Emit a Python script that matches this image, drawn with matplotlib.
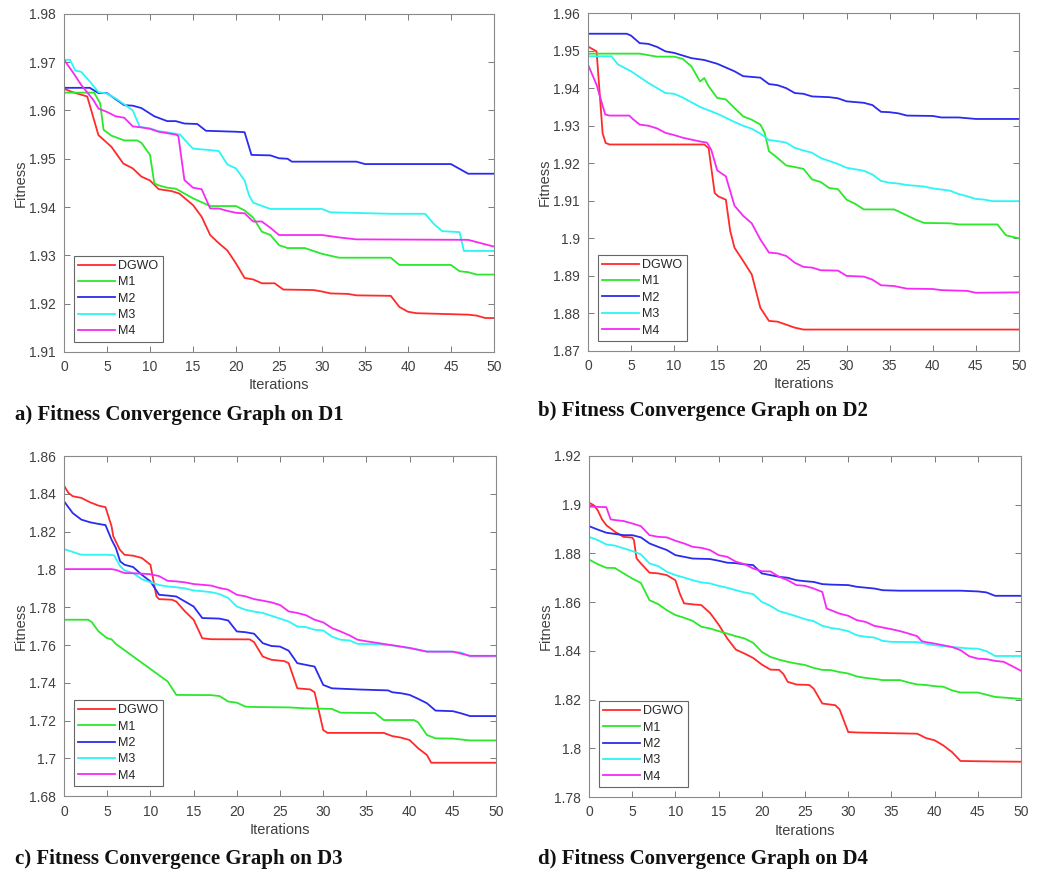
import matplotlib
matplotlib.use("Agg")
import matplotlib.pyplot as plt
from matplotlib.ticker import FuncFormatter

plt.rcParams['font.family'] = ['Liberation Sans', 'DejaVu Sans']

# iterations / fitness, (iteration, fitness) pairs
# ---- D1 ----
D1_DGWO = [(0, 1.9645), (1, 1.9638), (2.7, 1.9629), (4, 1.9549), (5.5, 1.9525), (6.9, 1.949), (8, 1.948),
           (9, 1.9463), (10, 1.9455), (11, 1.9437), (12.5, 1.9433), (13.4, 1.9428), (15, 1.9404), (16, 1.938),
           (17, 1.9342), (18, 1.9325), (19, 1.931), (20, 1.9283), (21, 1.9253), (22, 1.925), (23, 1.9242),
           (24.5, 1.9242), (25.5, 1.9229), (29, 1.9228), (30, 1.9225), (31, 1.9221), (33, 1.922), (34, 1.9217),
           (38, 1.9216), (39, 1.9193), (40, 1.9183), (41, 1.918), (47, 1.9177), (48, 1.9175), (49, 1.917), (50, 1.917)]
D1_M1 = [(0, 1.9637), (3.5, 1.9637), (4.2, 1.9615), (4.6, 1.956), (5.5, 1.9548), (7, 1.9538), (8.5, 1.9538),
         (9, 1.9533), (10, 1.9508), (10.5, 1.9449), (11, 1.9445), (12, 1.944), (13, 1.9438), (15, 1.9418),
         (16, 1.941), (17, 1.9402), (20, 1.9402), (21, 1.9393), (22, 1.9378), (23, 1.9349), (24, 1.9342),
         (25, 1.9321), (26, 1.9315), (28, 1.9315), (30, 1.9303), (32, 1.9295), (38, 1.9295), (39, 1.928),
         (45, 1.928), (46, 1.9267), (47, 1.9265), (48, 1.926), (50, 1.926)]
D1_M2 = [(0, 1.9647), (3, 1.9647), (4, 1.9636), (5, 1.9636), (7, 1.9611), (8, 1.961), (9, 1.9605),
         (10.5, 1.9588), (12, 1.9578), (13, 1.9578), (14, 1.9573), (15.5, 1.9572), (16.5, 1.9558), (20, 1.9556),
         (21, 1.9555), (21.8, 1.9508), (24, 1.9507), (25, 1.9501), (26, 1.95), (26.5, 1.9494), (34, 1.9494),
         (35, 1.9489), (45, 1.9489), (47, 1.9469), (50, 1.9469)]
D1_M3 = [(0, 1.9705), (0.7, 1.9705), (1.3, 1.9683), (2, 1.968), (3, 1.966), (4, 1.9638), (5, 1.9635),
         (6, 1.9625), (7, 1.9613), (8, 1.96), (8.8, 1.9566), (10, 1.9563), (11, 1.9557), (12, 1.9555),
         (13.5, 1.955), (14.5, 1.953), (15, 1.9521), (17, 1.9518), (18, 1.9516), (19, 1.9488), (20, 1.948),
         (21, 1.9455), (21.5, 1.9425), (22, 1.9409), (24, 1.9396), (30, 1.9396), (31, 1.9389), (38, 1.9386),
         (42, 1.9386), (43, 1.9365), (44, 1.935), (46, 1.9348), (46.5, 1.9309), (50, 1.9309)]
D1_M4 = [(0, 1.9705), (1, 1.968), (2, 1.9653), (3.4, 1.9622), (4, 1.9604), (5, 1.9597), (6, 1.9588),
         (7, 1.9585), (8, 1.9567), (9, 1.9565), (10, 1.9562), (11, 1.9556), (13, 1.955), (13.3, 1.9547),
         (14, 1.9456), (15, 1.944), (16, 1.9437), (17, 1.9397), (18, 1.9397), (19, 1.9392), (20, 1.9388),
         (21, 1.9387), (22, 1.937), (23, 1.937), (24, 1.9357), (25, 1.9342), (30, 1.9342), (32, 1.9337),
         (34, 1.9333), (47, 1.9332), (50, 1.9318)]

# ---- D2 ----
D2_DGWO = [(0, 1.9511), (1, 1.9498), (1.7, 1.928), (2.05, 1.9254), (2.5, 1.925), (13.5, 1.925), (14, 1.924),
           (14.7, 1.9121), (15.1, 1.9112), (16, 1.9103), (16.5, 1.902), (17, 1.8975), (18, 1.894), (19, 1.8904),
           (20, 1.8815), (21, 1.878), (22, 1.8778), (23, 1.877), (24, 1.8762), (25, 1.8757), (50, 1.8757)]
D2_M1 = [(0, 1.9492), (6, 1.9492), (8, 1.9484), (10, 1.9484), (11, 1.9478), (12, 1.9458), (13, 1.9418),
         (13.5, 1.9427), (14, 1.9405), (15, 1.9374), (16, 1.937), (17, 1.9347), (18, 1.9325), (19, 1.9316),
         (20, 1.9303), (20.5, 1.9281), (21, 1.9232), (22, 1.9214), (23, 1.9194), (24, 1.919), (25, 1.9185),
         (26, 1.9157), (27, 1.915), (28, 1.9134), (29, 1.9131), (30, 1.9103), (31, 1.9092), (32, 1.9077),
         (35.5, 1.9077), (36, 1.9072), (38, 1.905), (39, 1.9041), (42, 1.904), (43, 1.9037), (47.5, 1.9037),
         (48.5, 1.9008), (50, 1.900)]
D2_M2 = [(0, 1.9545), (4.5, 1.9545), (5, 1.954), (6, 1.952), (7, 1.9518), (8, 1.951), (9, 1.9498), (10, 1.9494),
         (12, 1.948), (13.5, 1.9475), (15, 1.9465), (16, 1.9455), (17, 1.9445), (18, 1.9432), (19, 1.943),
         (20, 1.9428), (21, 1.9411), (22, 1.9408), (23, 1.94), (24, 1.9387), (25, 1.9385), (26, 1.9378),
         (28, 1.9376), (29, 1.9373), (30, 1.9365), (32, 1.9361), (33, 1.9355), (34, 1.9337), (35, 1.9336),
         (36, 1.9333), (37, 1.9327), (40, 1.9326), (41, 1.9322), (43, 1.9322), (45, 1.9318), (50, 1.9318)]
D2_M3 = [(0, 1.9485), (2.7, 1.9485), (3.5, 1.9463), (5, 1.9445), (7, 1.9414), (9, 1.9387), (10, 1.9385),
         (11, 1.9375), (13, 1.935), (15, 1.9332), (17, 1.931), (18, 1.93), (19, 1.9292), (20, 1.9279),
         (21, 1.9262), (22, 1.9259), (23, 1.9255), (24, 1.9241), (25, 1.9234), (26, 1.9228), (27, 1.9214),
         (29, 1.9198), (30, 1.9188), (31, 1.9184), (32, 1.918), (33, 1.917), (34, 1.9153), (35, 1.9148),
         (36, 1.9146), (37, 1.9142), (39, 1.9138), (40, 1.9133), (41, 1.913), (42, 1.9127), (43, 1.9118),
         (44, 1.9112), (45, 1.9105), (46, 1.9103), (47, 1.9099), (50, 1.9099)]
D2_M4 = [(0, 1.9463), (1, 1.9409), (2, 1.933), (2.5, 1.9327), (4.8, 1.9327), (5.2, 1.9318), (6, 1.9303),
         (7, 1.93), (8, 1.9293), (9, 1.9281), (10, 1.9275), (11, 1.9268), (12, 1.9263), (13, 1.9258),
         (13.8, 1.9255), (14.3, 1.9236), (15, 1.9181), (16, 1.9165), (17, 1.9087), (18, 1.906), (19, 1.904),
         (20, 1.8997), (21, 1.8962), (22, 1.896), (23, 1.8953), (24, 1.8935), (25, 1.8924), (26, 1.8922),
         (27, 1.8915), (29, 1.8914), (30, 1.89), (32, 1.8898), (33, 1.889), (34, 1.8875), (35.5, 1.8873),
         (37, 1.8866), (40, 1.8865), (41, 1.8862), (44, 1.886), (45, 1.8855), (50, 1.8856)]

# ---- D3 ----
D3_DGWO = [(0, 1.8444), (0.5, 1.8406), (1, 1.8388), (2, 1.8379), (3, 1.8356), (4, 1.8338), (4.8, 1.833),
           (5.5, 1.8229), (5.7, 1.8176), (6.45, 1.8105), (7, 1.8078), (8, 1.8073), (9, 1.8061), (10, 1.8025),
           (10.7, 1.7857), (11, 1.7843), (12.5, 1.784), (13, 1.783), (14, 1.7778), (15, 1.7734), (16, 1.7636),
           (17, 1.7631), (21.5, 1.763), (22, 1.7615), (23, 1.7539), (24, 1.7522), (25.5, 1.7515), (26, 1.7504),
           (27, 1.7371), (28.5, 1.7365), (29, 1.735), (30, 1.715), (30.5, 1.7135), (37, 1.7135), (38, 1.7118),
           (39, 1.711), (40, 1.7097), (41, 1.7053), (42, 1.7018), (42.5, 1.6977), (50, 1.6977)]
D3_M1 = [(0, 1.7734), (2.8, 1.7734), (3.2, 1.7722), (4, 1.7672), (5, 1.7636), (5.5, 1.763), (6, 1.7606),
         (12, 1.7407), (13, 1.7336), (17, 1.7335), (18, 1.733), (19, 1.7301), (20, 1.7295), (21, 1.7274),
         (22, 1.7272), (26, 1.727), (28, 1.7265), (31, 1.7262), (32, 1.7242), (36, 1.724), (37, 1.7203),
         (40.5, 1.7203), (41, 1.719), (42, 1.7124), (43, 1.7106), (45, 1.7105), (47, 1.7095), (50, 1.7095)]
D3_M2 = [(0, 1.8361), (1, 1.8299), (2, 1.8264), (3, 1.825), (4, 1.8241), (4.8, 1.8235), (5.5, 1.8158),
         (6, 1.8114), (6.5, 1.8043), (7, 1.8025), (8, 1.8013), (9, 1.7972), (10, 1.7937), (11, 1.7866),
         (12, 1.7862), (13, 1.7857), (15, 1.7804), (16, 1.7743), (18, 1.774), (19, 1.773), (20, 1.7672),
         (21, 1.7668), (22, 1.766), (23, 1.761), (24, 1.7595), (25, 1.7592), (26, 1.757), (27, 1.7504),
         (28, 1.7495), (29, 1.7486), (30, 1.7389), (31, 1.7371), (34, 1.7365), (36, 1.7362), (37.5, 1.736),
         (38, 1.735), (39, 1.7345), (40, 1.7336), (41, 1.7315), (42, 1.7292), (43, 1.7253), (45, 1.725),
         (46, 1.7238), (47, 1.7224), (50, 1.7224)]
D3_M3 = [(0, 1.8108), (2, 1.8078), (5, 1.8078), (5.8, 1.8075), (6.5, 1.8017), (7, 1.7995), (8, 1.7981),
         (9, 1.7949), (10, 1.7932), (11, 1.7918), (12, 1.791), (13, 1.7906), (14, 1.79), (15, 1.7889),
         (16, 1.7885), (17, 1.788), (18, 1.787), (19, 1.7849), (20, 1.7804), (21, 1.7787), (22, 1.7777),
         (23, 1.777), (24, 1.7755), (25, 1.774), (26, 1.7725), (27, 1.7698), (28, 1.7695), (29, 1.7681),
         (30, 1.7677), (31, 1.7645), (32, 1.7628), (33, 1.7625), (34, 1.7606), (36, 1.7605), (38, 1.7598),
         (40, 1.7583), (41, 1.7575), (42, 1.7566), (45, 1.7565), (46, 1.756), (47, 1.7539), (50, 1.754)]
D3_M4 = [(0, 1.8002), (5.5, 1.8002), (6, 1.7998), (7, 1.7981), (8, 1.798), (9, 1.7978), (10, 1.7975),
         (11, 1.7965), (12, 1.794), (13, 1.7937), (14, 1.7932), (15, 1.7923), (17, 1.7915), (18, 1.7902),
         (19, 1.7893), (20, 1.7866), (21, 1.7858), (22, 1.7843), (23, 1.7835), (24, 1.7826), (25, 1.7812),
         (26, 1.7778), (27, 1.777), (28, 1.7758), (29, 1.7734), (30, 1.772), (31, 1.769), (32, 1.7672),
         (33, 1.7652), (34, 1.7628), (35, 1.762), (37, 1.7606), (40, 1.7585), (42, 1.7565), (45, 1.7565),
         (47, 1.7543), (50, 1.7543)]

# ---- D4 ----
D4_DGWO = [(0, 1.9008), (0.5, 1.8999), (1, 1.8978), (1.5, 1.894), (2, 1.8916), (3, 1.8889), (4, 1.8868),
           (5, 1.8865), (5.2, 1.8855), (5.5, 1.878), (6, 1.8759), (7, 1.8721), (8, 1.8718), (9, 1.8711),
           (10, 1.869), (10.5, 1.8636), (11, 1.8595), (12, 1.8591), (13, 1.8588), (14, 1.8556), (15, 1.8508),
           (16, 1.8451), (17, 1.8405), (18, 1.8389), (19, 1.8371), (20, 1.8344), (21, 1.8323), (22, 1.8322),
           (22.5, 1.8305), (23, 1.8273), (24, 1.8262), (25.5, 1.826), (26, 1.8245), (27, 1.8184), (28.5, 1.8177),
           (29, 1.816), (30, 1.8067), (31, 1.8065), (38, 1.806), (39, 1.8042), (40, 1.8033), (41, 1.8012),
           (42, 1.7985), (43, 1.7948), (47, 1.7946), (50, 1.7945)]
D4_M1 = [(0, 1.8775), (1, 1.8756), (2, 1.8741), (3, 1.874), (4, 1.8718), (5, 1.8697), (6, 1.8679), (7, 1.8608),
         (8, 1.8592), (9, 1.8567), (10, 1.8547), (11, 1.8536), (12, 1.8523), (13, 1.8499), (14, 1.8492),
         (15, 1.8481), (16, 1.8471), (17, 1.846), (18, 1.8451), (19, 1.8433), (20, 1.8396), (21, 1.8375),
         (22, 1.8364), (23, 1.8355), (24, 1.8348), (25, 1.8342), (26, 1.833), (27, 1.8322), (28, 1.8321),
         (29, 1.8313), (30, 1.8307), (31, 1.8295), (32, 1.8289), (33, 1.8285), (34, 1.828), (36, 1.828),
         (37, 1.827), (38, 1.8262), (39, 1.826), (40, 1.8255), (41, 1.8253), (42, 1.8238), (43, 1.8229),
         (45, 1.8229), (46, 1.822), (47, 1.8211), (50, 1.8203)]
D4_M2 = [(0, 1.8912), (1, 1.8898), (2, 1.8885), (3, 1.888), (4, 1.8875), (5, 1.8875), (6, 1.8866), (7, 1.8841),
         (8, 1.8827), (9, 1.8814), (10, 1.8793), (11, 1.8786), (12, 1.8779), (14, 1.8777), (15, 1.877),
         (16, 1.8762), (17, 1.876), (18, 1.8755), (19, 1.8752), (20, 1.8718), (21, 1.8711), (22, 1.8704),
         (23, 1.87), (24, 1.869), (25, 1.8686), (26, 1.8683), (27, 1.8674), (28, 1.8672), (30, 1.867),
         (31, 1.8663), (33, 1.8656), (34, 1.8649), (36, 1.8647), (43, 1.8647), (45, 1.8644), (46, 1.864),
         (47, 1.8626), (50, 1.8626)]
D4_M3 = [(0, 1.8868), (1, 1.8855), (2, 1.8837), (3, 1.8832), (4, 1.8821), (5, 1.881), (6, 1.8796), (7, 1.8759),
         (8, 1.8748), (9, 1.8725), (10, 1.8711), (11, 1.8701), (12, 1.869), (13, 1.8681), (14, 1.8677),
         (15, 1.8667), (16, 1.8659), (17, 1.8649), (18, 1.864), (19, 1.8633), (20, 1.8601), (21, 1.8585),
         (22, 1.8563), (23, 1.8553), (24, 1.8542), (25, 1.853), (26, 1.8522), (27, 1.8503), (28, 1.8494),
         (29, 1.8489), (30, 1.8481), (31, 1.8464), (32, 1.8458), (33, 1.8455), (34, 1.8441), (35, 1.8437),
         (38, 1.8436), (40, 1.8423), (42, 1.8416), (44, 1.841), (45, 1.8409), (46, 1.8399), (47, 1.8379),
         (50, 1.8379)]
D4_M4 = [(0, 1.8992), (2, 1.899), (2.5, 1.894), (3, 1.8937), (4, 1.8933), (5, 1.8923), (6, 1.8912), (7, 1.8875),
         (8, 1.8868), (9, 1.8866), (10, 1.8852), (11, 1.8841), (12, 1.8827), (13, 1.8823), (14, 1.8814),
         (15, 1.8793), (16, 1.8786), (17, 1.8766), (18, 1.8756), (19, 1.8738), (20, 1.8727), (21, 1.8726),
         (22, 1.8704), (23, 1.869), (24, 1.867), (25, 1.8667), (26, 1.8656), (27, 1.8642), (27.5, 1.8574),
         (28, 1.8567), (29, 1.8553), (30, 1.8544), (31, 1.8526), (32, 1.8519), (33, 1.8503), (34, 1.8496),
         (35, 1.8489), (36, 1.8481), (37, 1.8471), (38, 1.846), (38.5, 1.844), (39, 1.8436), (40, 1.843),
         (41, 1.8423), (42, 1.8416), (43, 1.8403), (44, 1.8378), (45, 1.8368), (46, 1.8366), (47, 1.8359),
         (48, 1.8355), (49, 1.8337), (50, 1.8318)]

labels = ["DGWO", "M1", "M2", "M3", "M4"]
colors = ["#ff2b2b", "#2be82b", "#2b2bef", "#2bf5f5", "#f52bf5"]

panels = [
    ([D1_DGWO, D1_M1, D1_M2, D1_M3, D1_M4], (1.91, 1.98), [1.91, 1.92, 1.93, 1.94, 1.95, 1.96, 1.97, 1.98],
     "a) Fitness Convergence Graph on D1"),
    ([D2_DGWO, D2_M1, D2_M2, D2_M3, D2_M4], (1.87, 1.96), [1.87, 1.88, 1.89, 1.90, 1.91, 1.92, 1.93, 1.94, 1.95, 1.96],
     "b) Fitness Convergence Graph on D2"),
    ([D3_DGWO, D3_M1, D3_M2, D3_M3, D3_M4], (1.68, 1.86), [1.68, 1.70, 1.72, 1.74, 1.76, 1.78, 1.80, 1.82, 1.84, 1.86],
     "c) Fitness Convergence Graph on D3"),
    ([D4_DGWO, D4_M1, D4_M2, D4_M3, D4_M4], (1.78, 1.92), [1.78, 1.80, 1.82, 1.84, 1.86, 1.88, 1.90, 1.92],
     "d) Fitness Convergence Graph on D4"),
]

# axes boxes [left, bottom, width, height] in figure fraction, caption anchor
boxes = [[0.0615, 0.597, 0.413, 0.387], [0.5648, 0.598, 0.414, 0.387],
         [0.0615, 0.088, 0.415, 0.3895], [0.5658, 0.087, 0.415, 0.3907]]
cap_pos = [(0.0144, 0.5246), (0.517, 0.529), (0.0144, 0.016), (0.517, 0.016)]

fig = plt.figure(figsize=(10.41, 8.73), dpi=100)
gray = "#404040"

for (series, ylim, yticks, caption), box, cp in zip(panels, boxes, cap_pos):
    ax = fig.add_axes(box)
    for pts, lab, col in zip(series, labels, colors):
        xs = [p[0] for p in pts]
        ys = [p[1] for p in pts]
        ax.plot(xs, ys, color=col, lw=1.3, label=lab)
    ax.set_xlim(0, 50)
    ax.set_ylim(*ylim)
    ax.set_xticks(range(0, 51, 5))
    ax.set_yticks(yticks)
    ax.yaxis.set_major_formatter(FuncFormatter(lambda v, p: "%g" % round(v, 3)))
    ax.tick_params(direction="in", top=True, right=True, length=4, width=0.7,
                   color="#7a7a7a", labelcolor=gray, labelsize=10)
    ax.tick_params(axis="x", pad=6)
    ax.tick_params(axis="y", pad=6)
    for s in ax.spines.values():
        s.set_color("#8a8a8a")
        s.set_linewidth(0.8)
    ax.set_xlabel("Iterations", fontsize=10.5, color=gray, labelpad=3)
    ax.set_ylabel("Fitness", fontsize=10.5, color=gray, labelpad=1)
    leg = ax.legend(loc="lower left", fontsize=9, frameon=True, fancybox=False, handlelength=2.9,
                    handletextpad=0.3, borderpad=0.35, labelspacing=0.35, borderaxespad=0.8)
    leg.get_frame().set_edgecolor("#404040")
    leg.get_frame().set_linewidth(0.8)
    for t in leg.get_texts():
        t.set_color("#262626")
    fig.text(cp[0], cp[1], caption, fontsize=15, fontweight="bold", family=["Liberation Serif"],
             ha="left", va="center", color="#111111")

fig.savefig("out.png", dpi=100)
